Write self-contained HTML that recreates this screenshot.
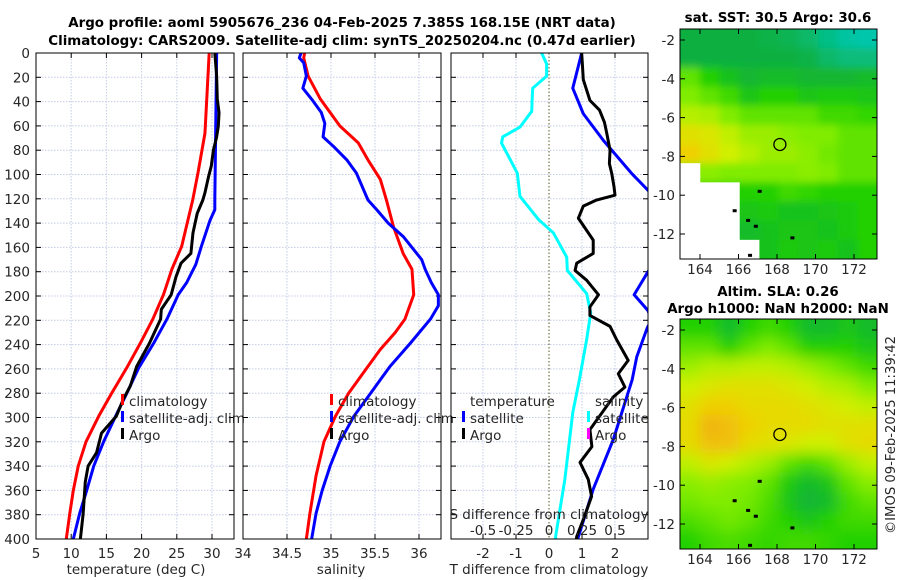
<!DOCTYPE html>
<html><head><meta charset="utf-8">
<style>
body{margin:0;background:#fff;}
svg{display:block;font-family:"DejaVu Sans","Liberation Sans",sans-serif;}
</style></head>
<body>
<svg id="fig" width="900" height="580" viewBox="0 0 900 580">
<defs>
<clipPath id="c1"><rect x="36" y="53" width="198" height="486"/></clipPath>
<clipPath id="c2"><rect x="243" y="53" width="198" height="486"/></clipPath>
<clipPath id="c3"><rect x="451" y="53" width="197" height="486"/></clipPath>
<clipPath id="cm1"><rect x="680" y="29" width="197" height="230"/></clipPath>
<clipPath id="cm2"><rect x="680" y="319" width="197" height="230"/></clipPath>
<filter id="blur" x="-10%" y="-10%" width="120%" height="120%"><feGaussianBlur stdDeviation="7"/></filter>
<filter id="blurs" x="-10%" y="-10%" width="120%" height="120%"><feGaussianBlur stdDeviation="4"/></filter>
</defs>
<text x="342" y="27" text-anchor="middle" font-weight="bold" font-size="13.4">Argo profile: aoml 5905676_236 04-Feb-2025 7.385S 168.15E (NRT data)</text>
<text x="342" y="45" text-anchor="middle" font-weight="bold" font-size="13.4">Climatology: CARS2009. Satellite-adj clim: synTS_20250204.nc (0.47d earlier)</text>
<text x="778" y="22" text-anchor="middle" font-weight="bold" font-size="13.4">sat. SST: 30.5 Argo: 30.6</text>
<text x="778" y="296" text-anchor="middle" font-weight="bold" font-size="13.4">Altim. SLA: 0.26</text>
<text x="778" y="313" text-anchor="middle" font-weight="bold" font-size="13.4">Argo h1000: NaN h2000: NaN</text>
<text transform="translate(895,435) rotate(-90)" text-anchor="middle" font-size="13.2" fill="#262626">©IMOS 09-Feb-2025 11:39:42</text>
<g id="g"></g>
</svg>
<script>
// ---- data ----
const depthTicks=[0,20,40,60,80,100,120,140,160,180,200,220,240,260,280,300,320,340,360,380,400];
const tempTicks=[5,10,15,20,25,30];
const salTicks=[34,34.5,35,35.5,36];
const tdiffTicks=[-2,-1,0,1,2];
const sdiffTicks=[-0.5,-0.25,0,0.25,0.5];
const sdiffTickLabels=["-0.5","-0.25","0","0.25","0.5"];

const climTDepth=[0,66,99,121,159,178,199,219,239,259,280,299,320,340,360,379,400];
const climT=[29.6,29.0,28.0,27.26,25.7,24.3,23.1,21.6,19.8,17.9,15.75,13.9,12.1,11.0,10.3,9.8,9.3];
const satTDepth=[0,121,129,138,159,174,189,199,219,239,259,280,299,320,340,360,379,400];
const satT=[30.66,30.4,30.4,29.7,28.5,27.7,26.4,25.2,23.6,21.7,19.6,17.9,16.3,14.6,13.2,12.2,11.2,10.3];
const argoTDepth=[0,19,38,49,60,69,80,93,102,115,121,132,148,165,173,184,199,211,219,239,258,274,285,299,313,329,340,353,379,395,400];
const argoT=[30.4,30.66,30.75,31.0,30.9,30.66,30.2,29.9,29.5,29.0,28.7,27.9,27.3,27.0,25.6,24.9,24.2,22.8,22.7,21.1,19.3,18.4,17.4,16.4,14.3,13.6,12.4,12.0,11.7,11.4,11.3];

const climSDepth=[0,4,19,38,60,74,88,104,121,143,165,178,199,219,230,244,263,280,299,320,348,379,400];
const climS=[34.70,34.69,34.74,34.88,35.10,35.31,35.42,35.56,35.63,35.71,35.82,35.92,35.94,35.84,35.73,35.56,35.37,35.20,35.05,34.92,34.83,34.76,34.72];
const satSDepth=[0,4,8,19,29,38,49,58,69,77,88,99,121,129,140,151,170,178,189,199,208,219,239,258,280,299,320,340,360,379,400];
const satS=[34.66,34.64,34.69,34.72,34.68,34.78,34.89,34.93,34.91,35.03,35.18,35.29,35.42,35.52,35.65,35.82,36.03,36.07,36.14,36.22,36.22,36.13,35.90,35.67,35.45,35.26,35.10,34.99,34.90,34.83,34.78];

const satTdDepth=[0,29,50,72,99,113,140,180,199,212,220,226,250,269,318,359,400];
const satTd=[0.99,0.72,1.04,1.65,2.5,3.0,4.0,3.0,2.58,3.0,3.1,2.98,2.66,2.52,1.95,1.34,0.87];
const argoTdDepth=[0,22,39,47,57,66,80,91,99,110,117,121,126,136,146,154,165,173,179,187,199,209,216,225,236,253,264,275,283,310,324,337,351,365,384,398,400];
const argoTd=[0.99,1.04,1.24,1.53,1.68,1.75,1.85,1.83,1.9,1.97,2.0,1.44,1.04,0.89,1.14,1.34,1.34,0.84,0.79,1.14,1.5,1.24,1.24,1.85,2.05,2.4,2.1,2.3,1.95,1.24,1.3,0.94,1.19,1.29,1.04,0.84,0.83];
const satSdDepth=[0,9,19,29,48,61,69,74,99,118,137,148,168,179,198,214,236,269,296,351,398,400];
const satSd=[-0.056,-0.018,-0.018,-0.124,-0.131,-0.22,-0.35,-0.36,-0.24,-0.22,-0.08,0.033,0.134,0.139,0.285,0.316,0.285,0.23,0.18,0.12,0.05,0.05];

const sstGrid=[
[0.3,0.3,0.3,0.3,0.28,0.25,0.2,0.12,0.05,0.02],
[0.3,0.3,0.3,0.3,0.3,0.3,0.28,0.2,0.15,0.15],
[0.55,0.45,0.38,0.33,0.35,0.35,0.33,0.33,0.33,0.35],
[0.6,0.55,0.5,0.4,0.45,0.45,0.4,0.42,0.42,0.4],
[0.7,0.68,0.6,0.55,0.55,0.55,0.55,0.5,0.5,0.48],
[0.8,0.78,0.72,0.65,0.65,0.62,0.6,0.6,0.55,0.55],
[0.85,0.8,0.75,0.7,0.65,0.65,0.62,0.58,0.55,0.55],
[-1,0.62,0.6,0.6,0.6,0.6,0.62,0.6,0.55,0.55],
[-1,-1,-1,0.45,0.45,0.5,0.48,0.45,0.45,0.45],
[-1,-1,-1,0.4,0.42,0.38,0.38,0.4,0.42,0.45],
[-1,-1,-1,0.35,0.38,0.4,0.4,0.38,0.42,0.45],
[-1,-1,-1,-1,0.38,0.42,0.4,0.42,0.38,0.45]];
const slaGrid=[
[0.45,0.45,0.35,0.45,0.5,0.45,0.35,0.35,0.4,0.35],
[0.55,0.55,0.45,0.55,0.6,0.55,0.45,0.45,0.45,0.4],
[0.65,0.7,0.7,0.72,0.72,0.7,0.65,0.6,0.55,0.5],
[0.75,0.78,0.8,0.8,0.8,0.78,0.75,0.7,0.68,0.6],
[0.8,0.85,0.85,0.82,0.82,0.82,0.8,0.78,0.75,0.72],
[0.82,0.9,0.88,0.85,0.82,0.82,0.82,0.8,0.8,0.8],
[0.82,0.88,0.88,0.82,0.8,0.78,0.75,0.75,0.8,0.82],
[0.72,0.78,0.75,0.7,0.65,0.55,0.5,0.55,0.65,0.72],
[0.62,0.65,0.62,0.6,0.55,0.42,0.35,0.4,0.55,0.62],
[0.58,0.6,0.6,0.58,0.52,0.4,0.32,0.35,0.5,0.55],
[0.52,0.55,0.58,0.55,0.5,0.45,0.4,0.45,0.5,0.5],
[0.45,0.5,0.52,0.5,0.48,0.5,0.5,0.48,0.45,0.45]];
const lonTicks=[164,166,168,170,172];
const latTicks=[-2,-4,-6,-8,-10,-12];
const argoLon=168.15, argoLat=-7.385;

// ---- helpers ----
const NS="http://www.w3.org/2000/svg";
const G=document.getElementById('g');
const FS=13.5;
function mk(tag,attrs,parent){const e=document.createElementNS(NS,tag);for(const k in attrs)e.setAttribute(k,attrs[k]);(parent||G).appendChild(e);return e;}
const yD=d=>53+d*1.215;
const xT=t=>36+(t-5)*7.04;
const xS=s=>243+(s-34)*88;
const xTd=v=>549+v*33;
const xSd=v=>549+v*132;
const lonX=l=>700+(l-164)*19.25;
const latY1=l=>40+(-2-l)*19.4;
const latY2=l=>330+(-2-l)*19.4;

function panel(x0,w,name){
  const fr=mk('g',{});
  
  
  depthTicks.forEach(d=>{
    const l=mk('line',{x1:x0,x2:x0+w,y1:yD(d),y2:yD(d),stroke:'#c4cce6','stroke-width':1,'stroke-dasharray':'1.5,1.5'},fr);
    
    
    mk('line',{x1:x0,x2:x0+5,y1:yD(d),y2:yD(d),stroke:'#000'},fr);
    mk('line',{x1:x0+w-5,x2:x0+w,y1:yD(d),y2:yD(d),stroke:'#000'},fr);
  });
  return fr;
}
function vgrid(fr,xs,name){xs.forEach(x=>{const l=mk('line',{x1:x,x2:x,y1:53,y2:539,stroke:'#c4cce6','stroke-dasharray':'1.5,1.5'},fr);
  
  mk('line',{x1:x,x2:x,y1:539,y2:534,stroke:'#000'},fr);mk('line',{x1:x,x2:x,y1:53,y2:58,stroke:'#000'},fr);});}
function frame(x0,w,name){const r=mk('rect',{x:x0,y:53,width:w,height:486,fill:'none',stroke:'#000','stroke-width':1});
  }
function line(xs,ds,xf,color,clip,name,sw){
  const p=mk('polyline',{points:xs.map((v,i)=>xf(v)+','+yD(ds[i])).join(' '),fill:'none',stroke:color,'stroke-width':sw||3,'stroke-linejoin':'round','clip-path':'url(#'+clip+')'});
  }
function txt(x,y,s,opts,name){const t=mk('text',Object.assign({x:x,y:y,'font-size':FS,fill:'#262626'},opts||{}));t.textContent=s;
  return t;}
function legmark(x,y,c){const r=mk('rect',{x:x,y:y-11,width:3,height:11,fill:c});}

// ---- panel 1: temperature ----
const p1=panel(36,198,'temperature-panel');
vgrid(p1,tempTicks.map(xT),'temperature-gridline');
depthTicks.forEach(d=>txt(30,yD(d)+5,String(d),{'text-anchor':'end'},'depth-tick-label'));
tempTicks.forEach(t=>txt(xT(t),558,String(t),{'text-anchor':'middle'},'temperature-tick-label'));
txt(136,574,'temperature (deg C)',{'text-anchor':'middle'},'temperature-axis-title');
line(climT,climTDepth,xT,'#ff0000','c1','climatology-temperature-line');
line(satT,satTDepth,xT,'#0000ff','c1','satellite-temperature-line');
line(argoT,argoTDepth,xT,'#000000','c1','argo-temperature-line');
frame(36,198,'temperature-axes-frame');
legmark(121,405,'#ff0000');txt(129,406,'climatology',{},'legend-climatology');
legmark(121,422,'#0000ff');txt(129,423,'satellite-adj. clim',{},'legend-satellite-adj');
legmark(121,439,'#000000');txt(129,440,'Argo',{},'legend-argo');

// ---- panel 2: salinity ----
const p2=panel(243,198,'salinity-panel');
vgrid(p2,salTicks.map(xS),'salinity-gridline');
salTicks.forEach(s=>txt(xS(s),558,String(s),{'text-anchor':'middle'},'salinity-tick-label'));
txt(341,574,'salinity',{'text-anchor':'middle'},'salinity-axis-title');
line(climS,climSDepth,xS,'#ff0000','c2','climatology-salinity-line');
line(satS,satSDepth,xS,'#0000ff','c2','satellite-salinity-line');
frame(243,198,'salinity-axes-frame');
legmark(330,405,'#ff0000');txt(338,406,'climatology',{},'legend-climatology-2');
legmark(330,422,'#0000ff');txt(338,423,'satellite-adj. clim',{},'legend-satellite-adj-2');
legmark(330,439,'#000000');txt(338,440,'Argo',{},'legend-argo-2');

// ---- panel 3: differences ----
const p3=panel(451,197,'difference-panel');
vgrid(p3,tdiffTicks.filter(v=>v!==0).map(xTd),'tdiff-gridline');
const zl=mk('line',{x1:xTd(0),x2:xTd(0),y1:53,y2:539,stroke:'#555522','stroke-dasharray':'1.5,2'});

line(satTd,satTdDepth,xTd,'#0000ff','c3','satellite-tdiff-line');
line(satSd,satSdDepth,xSd,'#00ffff','c3','satellite-sdiff-line');
line(argoTd,argoTdDepth,xTd,'#000000','c3','argo-tdiff-line');
frame(451,197,'difference-axes-frame');
tdiffTicks.forEach(v=>txt(xTd(v),558,String(v),{'text-anchor':'middle'},'tdiff-tick-label'));
txt(549,574,'T difference from climatology',{'text-anchor':'middle'},'tdiff-axis-title');
txt(549,519,'S difference from climatology',{'text-anchor':'middle'},'sdiff-axis-title');
sdiffTicks.forEach((v,i)=>txt(xSd(v),535,sdiffTickLabels[i],{'text-anchor':'middle'},'sdiff-tick-label'));
txt(470,406,'temperature',{},'legend-temperature-header');
legmark(462,422,'#0000ff');txt(470,423,'satellite',{},'legend-t-satellite');
legmark(462,439,'#000000');txt(470,440,'Argo',{},'legend-t-argo');
txt(595,406,'salinity',{},'legend-salinity-header');
legmark(587,422,'#00ffff');txt(595,423,'satellite',{},'legend-s-satellite');
legmark(587,439,'#ff00ff');txt(595,440,'Argo',{},'legend-s-argo');

// ---- maps ----
const cstops=[[0,[0,200,180]],[0.3,[16,176,64]],[0.45,[32,208,0]],[0.6,[128,236,0]],[0.75,[208,240,0]],[0.85,[240,208,0]],[0.95,[240,150,32]],[1,[240,120,40]]];
function cmap(v){for(let i=1;i<cstops.length;i++){if(v<=cstops[i][0]){const a=cstops[i-1],b=cstops[i],f=(v-a[0])/(b[0]-a[0]);
  const c=a[1].map((x,k)=>Math.round(x+(b[1][k]-x)*f));return 'rgb('+c.join(',')+')';}}return 'rgb(240,120,40)';}
function drawMap(grid,top,clip,name,blurId,latY){
  const g=mk('g',{'clip-path':'url(#'+clip+')'});
  
  const inner=mk('g',{filter:'url(#'+blurId+')'},g);
  const cw=197/grid[0].length, ch=230/grid.length;
  const land=[];
  grid.forEach((row,r)=>row.forEach((v,c)=>{
    const x=680+c*cw-(c===0?20:0), y=top+r*ch-(r===0?20:0);
    const w=cw+0.6+((c===0||c===row.length-1)?20:0), h=ch+0.6+((r===0||r===grid.length-1)?20:0);
    let val=v;
    if(v<0){land.push([680+c*cw-(c===0?20:0),top+r*ch,w,h+(r===grid.length-1?20:0)]);
      let nb=row.filter(q=>q>=0);val=nb.length?nb[0]:0.5;}
    const cell=mk('rect',{x:x,y:y,width:w,height:h,fill:cmap(val)},inner);
    
    
  }));
  land.forEach(l=>{const lr=mk('rect',{x:l[0],y:l[1],width:l[2],height:l[3],fill:'#fff'},g);
    });
  const fr=mk('rect',{x:680,y:top,width:197,height:230,fill:'none',stroke:'#000'});
  
  lonTicks.forEach(l=>{const x=lonX(l);mk('line',{x1:x,x2:x,y1:top+230,y2:top+225,stroke:'#000'});mk('line',{x1:x,x2:x,y1:top,y2:top+5,stroke:'#000'});
    txt(x,top+245,String(l),{'text-anchor':'middle'},'longitude-tick-label');});
  latTicks.forEach(l=>{const y=latY(l);mk('line',{x1:680,x2:685,y1:y,y2:y,stroke:'#000'});mk('line',{x1:872,x2:877,y1:y,y2:y,stroke:'#000'});
    txt(675,y+5,String(l),{'text-anchor':'end'},'latitude-tick-label');});
  const m=mk('circle',{cx:lonX(argoLon),cy:latY(argoLat),r:6,fill:'none',stroke:'#000','stroke-width':1.3});
  
  [[165.8,-10.8],[166.5,-11.3],[166.9,-11.6],[167.1,-9.8],[166.6,-13.1],[168.8,-12.2]].forEach(p=>{
    const d=mk('rect',{x:lonX(p[0])-2,y:latY(p[1])-1.5,width:4,height:3,fill:'#000'});
    });
}
drawMap(sstGrid,29,'cm1','sst-map','blurs',latY1);
drawMap(slaGrid,319,'cm2','sla-map','blur',latY2);
</script>
</body></html>
